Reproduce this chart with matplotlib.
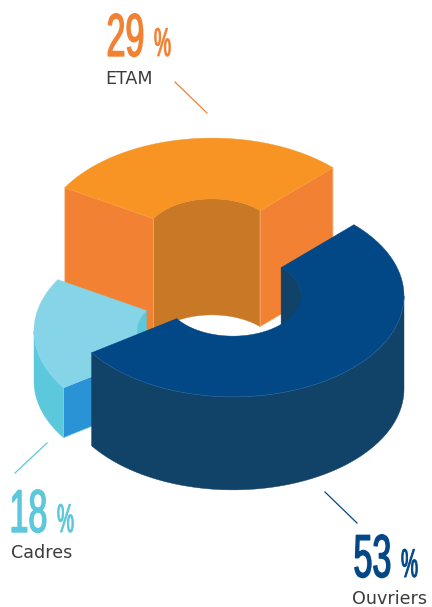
import numpy as np
import matplotlib
matplotlib.use('Agg')
import matplotlib.pyplot as plt
from matplotlib.patches import Polygon
from matplotlib.patheffects import AbstractPathEffect
from matplotlib.transforms import Affine2D

# share of each staff category, in percent
names = ['ETAM', 'Cadres', 'Ouvriers']
shares = [29, 18, 53]

W, H = 432, 607
START_ANGLE = 45.0
TILT = 0.59
R_OUT = 171.0
R_IN = 68.0


class Tall(AbstractPathEffect):
    # stretches a text upwards from its baseline y0 (display coords) and thickens it,
    # no condensed font available
    def __init__(self, y0, sy, weight):
        super().__init__()
        self.y0 = y0
        self.sy = sy
        self.weight = weight

    def draw_path(self, renderer, gc, tpath, affine, rgbFace=None):
        stretch = Affine2D().translate(0, -self.y0).scale(1, self.sy).translate(0, self.y0)
        gc0 = renderer.new_gc()
        gc0.copy_properties(gc)
        gc0.set_linewidth(self.weight)
        gc0.set_foreground(rgbFace)
        renderer.draw_path(gc0, tpath, affine + stretch, rgbFace)
        gc0.restore()


def arc(c, r, a0, a1, drop=0.0):
    t = np.radians(np.linspace(a0, a1, 120))
    return np.column_stack((c[0] + r * np.cos(t), c[1] - TILT * r * np.sin(t) + drop))


def wall(ax, c, r, a0, a1, depth, color):
    if a1 <= a0:
        return
    pts = np.vstack((arc(c, r, a0, a1), arc(c, r, a0, a1, depth)[::-1]))
    ax.add_patch(Polygon(pts, closed=True, fc=color, ec=color, lw=0.3))


def radial_face(ax, c, a, depth, color, edge):
    top = np.vstack((arc(c, R_IN, a, a)[:1], arc(c, R_OUT, a, a)[:1]))
    pts = np.vstack((top, top[::-1] + [0, depth]))
    ax.add_patch(Polygon(pts, closed=True, fc=color, ec=edge, lw=0.5))


def draw_slice(ax, c, a0, a1, depth, top_col, outer_col, inner_col, face_col, edge):
    # only the parts turned towards the viewer
    wall(ax, c, R_IN, max(a0, 0), min(a1, 180), depth, inner_col)
    wall(ax, c, R_IN, max(a0, 360), min(a1, 540), depth, inner_col)
    wall(ax, c, R_OUT, max(a0, 180), min(a1, 360), depth, outer_col)
    if np.cos(np.radians(a0)) > 0:
        radial_face(ax, c, a0, depth, face_col, edge)
    if np.cos(np.radians(a1)) < 0:
        radial_face(ax, c, a1, depth, face_col, edge)
    pts = np.vstack((arc(c, R_OUT, a0, a1), arc(c, R_IN, a0, a1)[::-1]))
    ax.add_patch(Polygon(pts, closed=True, fc=top_col, ec=top_col, lw=0.3))
    # thin highlight on the front rim
    lo, hi = max(a0, 180), min(a1, 360)
    if hi > lo:
        rim = arc(c, R_OUT, lo, hi)
        ax.plot(rim[:, 0], rim[:, 1], color=edge, lw=0.4)


def big_number(ax, x, base, value, color):
    # number and percent sign have separate sizes
    y0 = H - base
    ax.text(x, base, str(value), fontsize=24.5, family='Liberation Sans', color=color,
            ha='left', va='baseline', path_effects=[Tall(y0, 1.78, 1.0)])
    ax.text(x + 47.5, base, '%', fontsize=13.8, family='Liberation Sans', color=color,
            ha='left', va='baseline', path_effects=[Tall(y0, 2.1, 0.7)])


fig = plt.figure(figsize=(W / 100, H / 100), dpi=100)
ax = fig.add_axes([0, 0, 1, 1])
ax.set_xlim(0, W)
ax.set_ylim(H, 0)
ax.axis('off')

edges = np.cumsum([0] + shares) * 3.6 + START_ANGLE

# ETAM
draw_slice(ax, (212, 239), edges[0], edges[1], 116, '#F79423', '#F28133', '#C97826', '#F28133', '#F8B27C')
# Cadres
draw_slice(ax, (205, 331), edges[1], edges[2], 50, '#86D4E8', '#5BC8DC', '#5BC8DC', '#2A93D5', '#86D4E8')
# Ouvriers
draw_slice(ax, (233, 296), edges[2], edges[3], 93, '#024886', '#114268', '#114268', '#114268', '#2F6596')

# leader lines
ax.plot([175, 207], [82, 113], color='#F28133', lw=0.9)
ax.plot([47, 15], [443, 473], color='#5BC8DC', lw=0.9)
ax.plot([325, 357], [492, 523], color='#024886', lw=0.9)

big_number(ax, 106.5, 56, shares[0], '#F28133')
big_number(ax, 9.5, 532, shares[1], '#5BC8DC')
big_number(ax, 353.5, 577, shares[2], '#024886')

label_font = dict(fontsize=12.6, family='DejaVu Sans', color='#3C3C3C', ha='left', va='baseline')
ax.text(105, 84, names[0], **label_font)
ax.text(11, 558, names[1], **label_font)
ax.text(352, 604, names[2], **label_font)

fig.savefig('out.png', dpi=100)
